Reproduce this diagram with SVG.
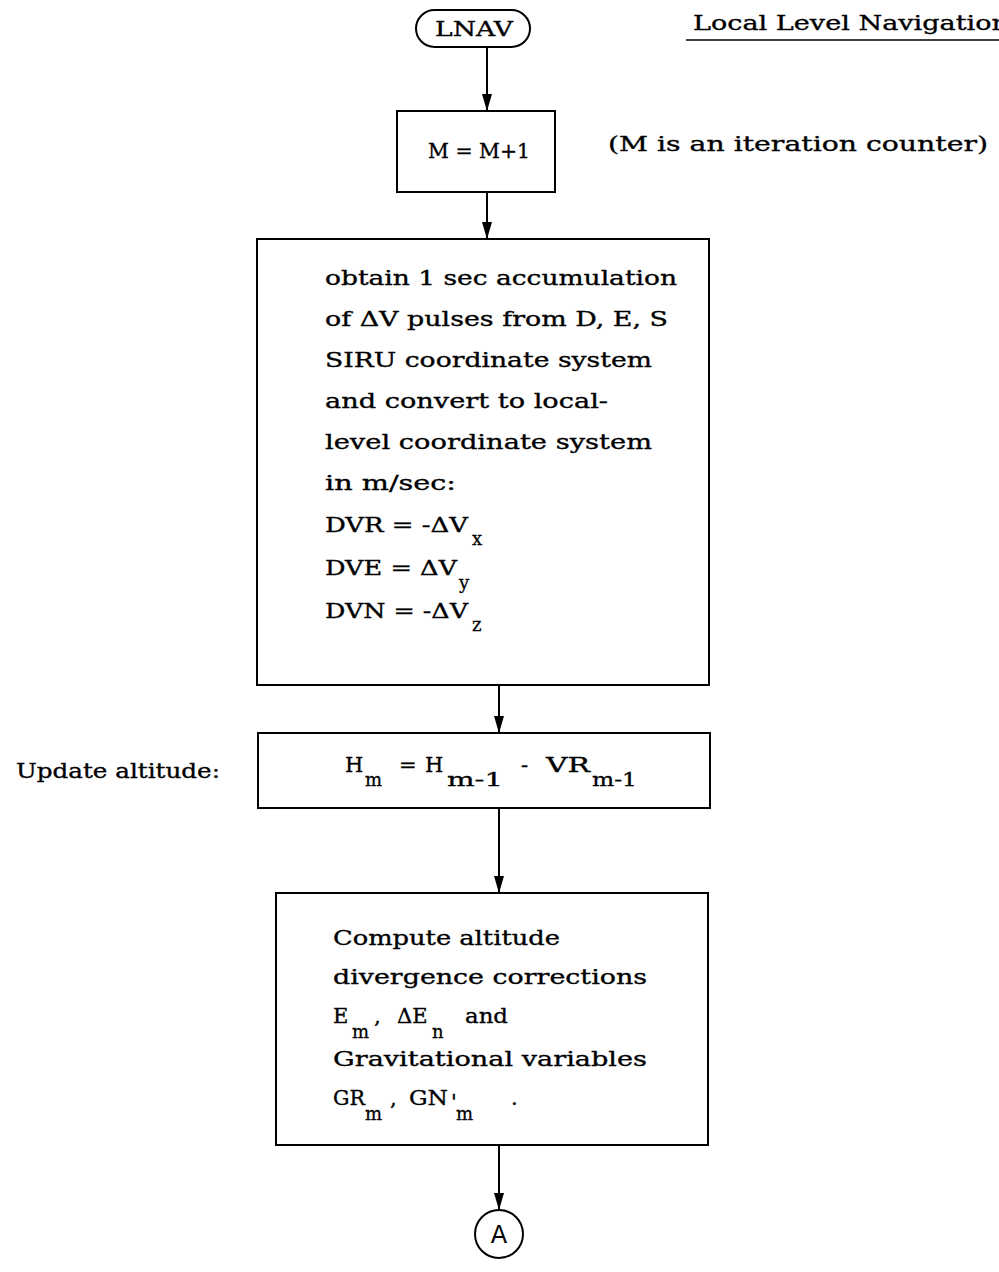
<svg xmlns="http://www.w3.org/2000/svg" width="999" height="1272" viewBox="0 0 999 1272">
<defs>
<marker id="ah" markerUnits="userSpaceOnUse" markerWidth="18" markerHeight="12" refX="17" refY="6" orient="auto">
<path d="M0,1 L17,6 L0,11 z" fill="#000"/>
</marker>
<style>
.box{fill:#fff;stroke:#000;stroke-width:2}
.t{font-family:"DejaVu Serif","Liberation Serif",serif;font-size:21px;fill:#000;stroke:#000;stroke-width:0.35}
.s{font-family:"DejaVu Serif","Liberation Serif",serif;font-size:18px;fill:#000;stroke:#000;stroke-width:0.3}
.c{stroke:#000;stroke-width:2;fill:none;marker-end:url(#ah)}
</style>
</defs>
<rect width="999" height="1272" fill="#fff"/>
<g id="connectors">
<line class="c" x1="487" y1="47" x2="487" y2="111"/>
<line class="c" x1="487" y1="192" x2="487" y2="239"/>
<line class="c" x1="499" y1="685" x2="499" y2="733"/>
<line class="c" x1="499" y1="808" x2="499" y2="893"/>
<line class="c" x1="499" y1="1145" x2="499" y2="1210"/>
</g>
<g id="title">
<text class="t" x="693" y="30" textLength="316" lengthAdjust="spacingAndGlyphs">Local Level Navigation</text>
<line x1="686" y1="40" x2="999" y2="40" stroke="#000" stroke-width="1.5"/>
</g>
<g id="lnav">
<rect class="box" x="416" y="10" width="114" height="37" rx="18.5"/>
<text class="t" x="474" y="36" text-anchor="middle" textLength="78" lengthAdjust="spacingAndGlyphs">LNAV</text>
</g>
<g id="counter">
<rect class="box" x="397" y="111" width="158" height="81"/>
<text class="t" x="428" y="158" textLength="102" lengthAdjust="spacingAndGlyphs">M = M+1</text>
<text class="t" x="608" y="151" textLength="380" lengthAdjust="spacingAndGlyphs">(M is an iteration counter)</text>
</g>
<g id="accumulate">
<rect class="box" x="257" y="239" width="452" height="446"/>
<text class="t" x="325" y="285" textLength="352" lengthAdjust="spacingAndGlyphs">obtain 1 sec accumulation</text>
<text class="t" x="325" y="326" textLength="343" lengthAdjust="spacingAndGlyphs">of ΔV pulses from D, E, S</text>
<text class="t" x="325" y="367" textLength="327" lengthAdjust="spacingAndGlyphs">SIRU coordinate system</text>
<text class="t" x="325" y="408" textLength="283" lengthAdjust="spacingAndGlyphs">and convert to local-</text>
<text class="t" x="325" y="449" textLength="327" lengthAdjust="spacingAndGlyphs">level coordinate system</text>
<text class="t" x="325" y="490" textLength="131" lengthAdjust="spacingAndGlyphs">in m/sec:</text>
<text class="t" x="325" y="532" textLength="143" lengthAdjust="spacingAndGlyphs">DVR = -ΔV</text>
<text class="s" x="472" y="545">x</text>
<text class="t" x="325" y="575" textLength="132" lengthAdjust="spacingAndGlyphs">DVE = ΔV</text>
<text class="s" x="459" y="589">y</text>
<text class="t" x="325" y="618" textLength="143" lengthAdjust="spacingAndGlyphs">DVN = -ΔV</text>
<text class="s" x="472" y="631">z</text>
</g>
<g id="altitude">
<text class="t" x="16" y="778" textLength="204" lengthAdjust="spacingAndGlyphs">Update altitude:</text>
<rect class="box" x="258" y="733" width="452" height="75"/>
<text class="t" x="345" y="772">H</text>
<text class="s" x="365" y="786">m</text>
<text class="t" x="399" y="772">=</text>
<text class="t" x="425" y="772">H</text>
<text class="s" x="447" y="786" textLength="56" lengthAdjust="spacingAndGlyphs">m-1</text>
<text class="t" x="521" y="772">-</text>
<text class="t" x="546" y="772" textLength="44" lengthAdjust="spacingAndGlyphs">VR</text>
<text class="s" x="592" y="786" textLength="45" lengthAdjust="spacingAndGlyphs">m-1</text>
</g>
<g id="compute">
<rect class="box" x="276" y="893" width="432" height="252"/>
<text class="t" x="333" y="945" textLength="227" lengthAdjust="spacingAndGlyphs">Compute altitude</text>
<text class="t" x="333" y="984" textLength="314" lengthAdjust="spacingAndGlyphs">divergence corrections</text>
<text class="t" x="333" y="1023">E</text>
<text class="s" x="352" y="1038">m</text>
<text class="t" x="374" y="1023">,</text>
<text class="t" x="397" y="1023">ΔE</text>
<text class="s" x="432" y="1038">n</text>
<text class="t" x="465" y="1023" textLength="43" lengthAdjust="spacingAndGlyphs">and</text>
<text class="t" x="333" y="1066" textLength="314" lengthAdjust="spacingAndGlyphs">Gravitational variables</text>
<text class="t" x="333" y="1105" textLength="32" lengthAdjust="spacingAndGlyphs">GR</text>
<text class="s" x="365" y="1120">m</text>
<text class="t" x="390" y="1105">,</text>
<text class="t" x="409" y="1105" textLength="39" lengthAdjust="spacingAndGlyphs">GN</text>
<text class="t" x="451" y="1109">'</text>
<text class="s" x="456" y="1120">m</text>
<text class="t" x="511" y="1105">.</text>
</g>
<g id="connectorA">
<circle cx="499" cy="1234" r="24" fill="#fff" stroke="#000" stroke-width="2"/>
<text x="499" y="1243" text-anchor="middle" font-family="DejaVu Sans,sans-serif" font-size="24">A</text>
</g>
</svg>
